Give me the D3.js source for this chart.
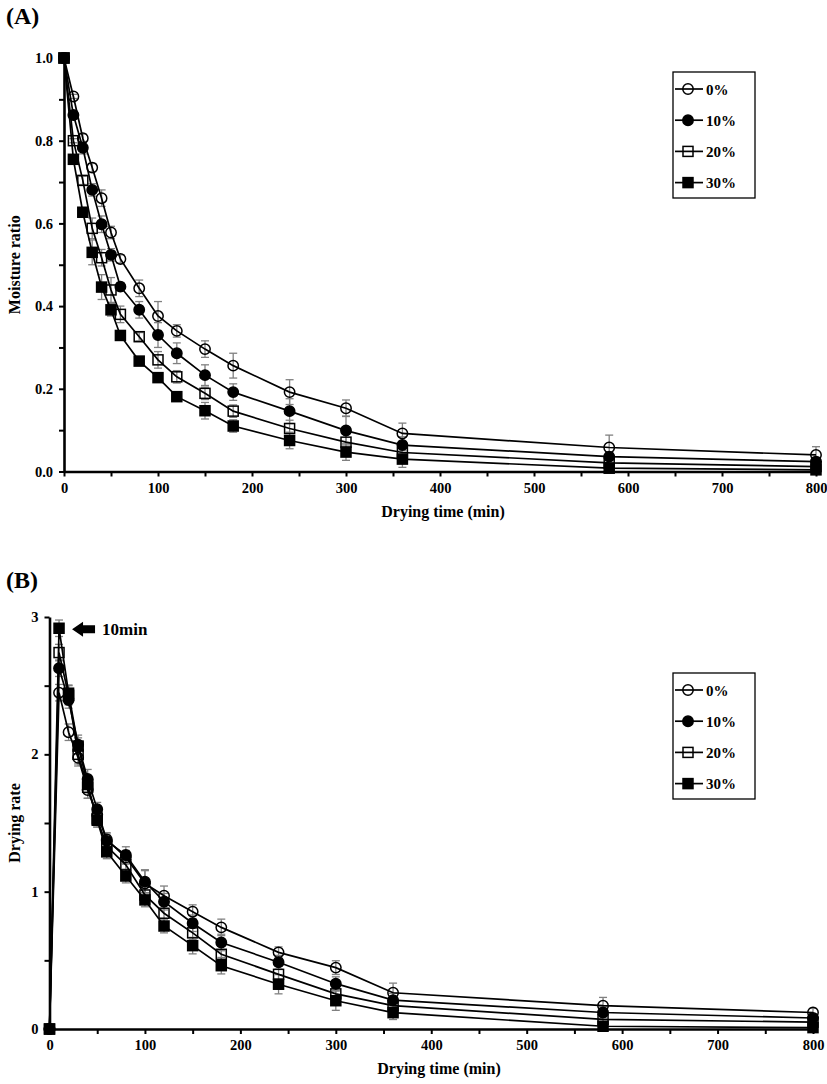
<!DOCTYPE html>
<html><head><meta charset="utf-8">
<script src="https://cdn.jsdelivr.net/npm/d3@7"></script>
<style>
html,body{margin:0;padding:0;background:#fff;}
svg{display:block;}
text{font-family:"Liberation Serif","Times New Roman",serif;font-weight:bold;fill:#000;}
</style></head>
<body><svg id="c" width="827" height="1084"></svg>
<script>
// ---- data ----
const times = [0,10,20,30,40,50,60,80,100,120,150,180,240,300,360,580,800];
const seriesNames = ["0%","10%","20%","30%"];
const mr0  = [1.0,0.907,0.806,0.735,0.661,0.578,0.514,0.443,0.376,0.340,0.296,0.256,0.192,0.153,0.092,0.058,0.040];
const mr10 = [1.0,0.862,0.783,0.681,0.598,0.524,0.447,0.391,0.330,0.286,0.233,0.192,0.146,0.099,0.064,0.036,0.024];
const mr20 = [1.0,0.800,0.704,0.588,0.517,0.439,0.380,0.326,0.270,0.229,0.189,0.146,0.104,0.071,0.046,0.021,0.012];
const mr30 = [1.0,0.755,0.627,0.530,0.446,0.391,0.329,0.267,0.227,0.181,0.147,0.110,0.075,0.047,0.030,0.008,0.004];
const mrErr0  = [0,0.005,0.01,0.01,0.02,0.015,0.01,0.02,0.035,0.015,0.02,0.03,0.03,0.02,0.025,0.03,0.02];
const mrErr10 = [0,0.01,0.015,0.015,0.02,0.015,0.01,0.02,0.03,0.025,0.025,0.02,0.03,0.035,0.02,0.01,0.01];
const mrErr20 = [0,0.005,0.01,0.025,0.02,0.03,0.02,0.01,0.02,0.015,0.015,0.015,0.02,0.025,0.02,0.01,0.01];
const mrErr30 = [0,0.005,0.01,0.03,0.03,0.015,0.01,0.01,0.01,0.01,0.02,0.015,0.02,0.02,0.02,0.01,0.005];

const dr0  = [0,2.449,2.161,1.975,1.740,1.560,1.380,1.250,1.060,0.971,0.854,0.740,0.558,0.447,0.264,0.170,0.120];
const dr10 = [0,2.627,2.396,2.070,1.820,1.600,1.370,1.267,1.073,0.927,0.770,0.630,0.486,0.330,0.210,0.120,0.080];
const dr20 = [0,2.741,2.430,2.000,1.760,1.530,1.330,1.195,0.976,0.843,0.700,0.544,0.398,0.256,0.170,0.070,0.050];
const dr30 = [0,2.918,2.445,2.060,1.780,1.520,1.290,1.114,0.940,0.750,0.607,0.461,0.326,0.206,0.119,0.020,0.010];
const drErr0  = [0,0.06,0.06,0.06,0.06,0.06,0.05,0.05,0.10,0.07,0.05,0.06,0.04,0.05,0.07,0.06,0.03];
const drErr10 = [0,0.06,0.06,0.07,0.07,0.05,0.05,0.06,0.08,0.06,0.06,0.06,0.05,0.05,0.05,0.04,0.03];
const drErr20 = [0,0.06,0.07,0.07,0.08,0.06,0.06,0.05,0.06,0.06,0.05,0.06,0.06,0.05,0.05,0.03,0.02];
const drErr30 = [0,0.06,0.06,0.06,0.06,0.05,0.05,0.05,0.05,0.05,0.06,0.06,0.07,0.07,0.05,0.02,0.01];

const xTickValues = d3.range(0, 801, 50);
const mrTickValues = d3.range(0, 11).map(i => i / 10);
const drTickValues = d3.range(0, 7).map(i => i / 2);
const markers = ["circleOpen","circleFilled","squareOpen","squareFilled"];

const svg = d3.select("#c");

function drawMarker(g, type, x, y) {
  if (type.startsWith("circle")) {
    g.append("circle").attr("cx", x).attr("cy", y).attr("r", 5.2)
      .attr("fill", type === "circleOpen" ? "none" : "#000")
      .attr("stroke", "#000").attr("stroke-width", 1.5);
  } else {
    const s = 10;
    g.append("rect").attr("x", x - s/2).attr("y", y - s/2).attr("width", s).attr("height", s)
      .attr("fill", type === "squareOpen" ? "none" : "#000")
      .attr("stroke", "#000").attr("stroke-width", 1.5);
  }
}

function panel(opt) {
  const g = svg.append("g");
  const x = d3.scaleLinear().domain([0, 800]).range([opt.x0, opt.x1]);
  const y = d3.scaleLinear().domain([0, opt.ymax]).range([opt.y0, opt.y1]);

  // axes
  const xa = g.append("g").attr("transform", `translate(0,${opt.y0})`)
    .call(d3.axisBottom(x).tickValues(xTickValues).tickSize(5).tickSizeOuter(0).tickPadding(6)
      .tickFormat(d => d % 100 === 0 ? d : ""));
  const ya = g.append("g").attr("transform", `translate(${opt.x0},0)`)
    .call(d3.axisLeft(y).tickValues(opt.yTicks).tickSize(5).tickSizeOuter(0).tickPadding(6)
      .tickFormat(opt.yFmt));
  [xa, ya].forEach(a => {
    a.select(".domain").attr("stroke", "#000").attr("stroke-width", 2.6);
    a.selectAll(".tick line").attr("stroke", "#000").attr("stroke-width", 2);
    a.selectAll(".tick text").style("font-family", '"Liberation Serif",serif')
      .style("font-weight", "bold").style("font-size", "14.5px").attr("fill", "#000");
  });

  // error bars
  const eg = g.append("g");
  opt.series.forEach((s, si) => {
    s.forEach((v, i) => {
      const e = opt.errs[si][i];
      if (!e) return;
      const cx = x(times[i]);
      eg.append("line").attr("x1", cx).attr("x2", cx).attr("y1", y(v - e)).attr("y2", y(v + e))
        .attr("stroke", "#808080").attr("stroke-width", 1.3);
      [v - e, v + e].forEach(w => eg.append("line").attr("x1", cx - 4).attr("x2", cx + 4)
        .attr("y1", y(w)).attr("y2", y(w)).attr("stroke", "#808080").attr("stroke-width", 1.3));
    });
  });

  // lines
  const line = d3.line().x((d, i) => x(times[i])).y(d => y(d));
  opt.series.forEach(s => {
    g.append("path").datum(s).attr("d", line).attr("fill", "none")
      .attr("stroke", "#000").attr("stroke-width", 1.7);
  });

  // markers
  const mg = g.append("g");
  opt.series.forEach((s, si) => {
    s.forEach((v, i) => drawMarker(mg, markers[si], x(times[i]), y(v)));
  });

  // titles
  g.append("text").attr("x", opt.titleX).attr("y", opt.y0 + 45)
    .attr("text-anchor", "middle").style("font-size", "16px").text("Drying time (min)");
  g.append("text").attr("transform", `translate(20,${(opt.y0 + opt.y1) / 2}) rotate(-90)`)
    .attr("text-anchor", "middle").style("font-size", "16px").text(opt.ytitle);
  g.append("text").attr("x", opt.labelX).attr("y", opt.labelY).style("font-size", "24px").text(opt.label);

  // legend
  const L = opt.legend;
  g.append("rect").attr("x", L.x).attr("y", L.y).attr("width", 82).attr("height", 126)
    .attr("fill", "#fff").attr("stroke", "#000").attr("stroke-width", 1.3);
  seriesNames.forEach((nm, i) => {
    const cy = L.y + 17 + i * 31.2;
    g.append("line").attr("x1", L.x + 2).attr("x2", L.x + 30).attr("y1", cy).attr("y2", cy)
      .attr("stroke", "#000").attr("stroke-width", 1.7);
    const lg = g.append("g");
    drawMarker(lg, markers[i], L.x + 15, cy);
    g.append("text").attr("x", L.x + 33).attr("y", cy + 5.5).style("font-size", "15px").text(nm);
  });
  return {x, y, g};
}

panel({
  x0: 64, x1: 816, y0: 471.5, y1: 58, ymax: 1.0,
  yTicks: mrTickValues, yFmt: d => (Math.round(d * 10) % 2 === 0 ? d3.format(".1f")(d) : ""),
  series: [mr0, mr10, mr20, mr30], errs: [mrErr0, mrErr10, mrErr20, mrErr30],
  ytitle: "Moisture ratio", label: "(A)", labelX: 6, labelY: 24, titleX: 443,
  legend: {x: 673, y: 72}
});

const pB = panel({
  x0: 49.5, x1: 813, y0: 1029, y1: 617, ymax: 3,
  yTicks: drTickValues, yFmt: d => (d % 1 === 0 ? d3.format("d")(d) : ""),
  series: [dr0, dr10, dr20, dr30], errs: [drErr0, drErr10, drErr20, drErr30],
  ytitle: "Drying rate", label: "(B)", labelX: 6, labelY: 588, titleX: 439,
  legend: {x: 673, y: 673}
});

// arrow annotation pointing at the 10 min peak
const ax = pB.x(10) + 13, ay = pB.y(dr30[1]) + 1;
pB.g.append("path")
  .attr("d", `M${ax},${ay} L${ax+11},${ay-7.5} L${ax+11},${ay-4} L${ax+23},${ay-4} L${ax+23},${ay+4} L${ax+11},${ay+4} L${ax+11},${ay+7.5} Z`)
  .attr("fill", "#000");
pB.g.append("text").attr("x", ax + 30).attr("y", ay + 6).style("font-size", "17px").text("10min");
</script></body></html>
